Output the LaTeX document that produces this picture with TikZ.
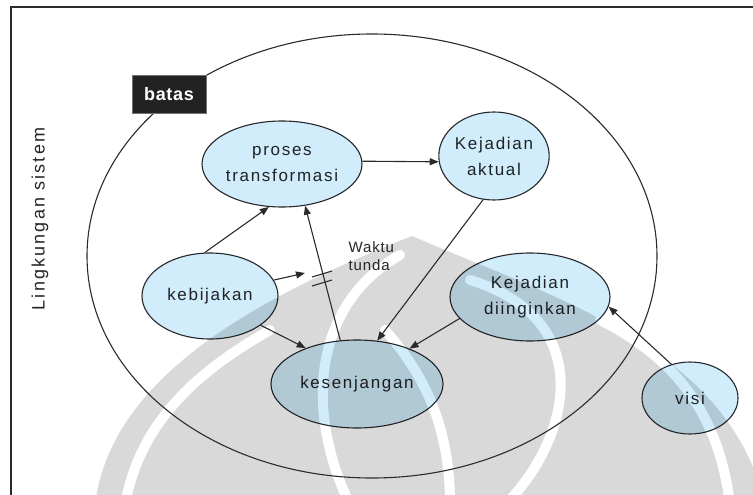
\documentclass[tikz,border=0pt]{standalone}
\usepackage{fontspec}
\setmainfont{Liberation Sans}[LetterSpace=10]
\usetikzlibrary{shapes.geometric,arrows.meta}
\definecolor{nodefill}{HTML}{D1ECFB}
\definecolor{linegrey}{HTML}{2B2B2B}
\definecolor{markgrey}{HTML}{D9D9D9}
\definecolor{boxdark}{HTML}{222222}
\begin{document}
\begin{tikzpicture}[x=1pt,y=-1pt,
  concept/.style={ellipse, draw=linegrey, line width=1.1pt, fill=nodefill,
    inner sep=0pt, align=center, text=black!85,
    font=\fontsize{17}{26}\selectfont},
  link/.style={draw=linegrey, line width=1.1pt,
    -{Triangle[length=9pt,width=7pt]}},
  plain/.style={draw=linegrey, line width=1.1pt},
  stripe/.style={draw=white, line width=10pt, line cap=round},
]
\useasboundingbox (0,0) rectangle (753,495);
\fill[white] (0,0) rectangle (753,495);

% faint emblem in the background
\fill[markgrey] (95,505) .. controls (110,380) and (250,300) .. (412,236)
  .. controls (560,300) and (730,350) .. (765,505) -- cycle;
\draw[stripe] (400,255) .. controls (320,300) and (300,400) .. (350,505);
\draw[stripe] (470,280) .. controls (600,320) and (570,440) .. (505,505);
\draw[stripe] (270,330) .. controls (200,370) and (140,420) .. (125,505);
\draw[stripe] (600,320) .. controls (680,360) and (720,420) .. (730,505);
\draw[stripe] (385,330) .. controls (420,370) and (450,420) .. (450,505);

% frame
\draw[plain, line width=1.6pt] (11,505) -- (11,7) -- (760,7);

% system boundary
\node[ellipse, draw=linegrey, line width=1.1pt, minimum width=570pt,
  minimum height=444pt, inner sep=0pt] (boundary) at (372,256) {};
\node[fill=boxdark, draw=black!55, line width=0.8pt, minimum width=74pt,
  minimum height=38pt, inner sep=0pt, text=white,
  font=\bfseries\fontsize{18}{20}\selectfont\addfontfeature{LetterSpace=4}]
  (batas) at (169,94) {batas};

\node[rotate=90, text=black!85,
  font=\fontsize{18}{20}\selectfont\addfontfeature{LetterSpace=12}]
  (env) at (40,219) {Lingkungan sistem};

% concepts
\begin{scope}[blend mode=multiply]
\node[concept, minimum width=160pt, minimum height=86pt] (proses) at (282,164)
  {proses\\transformasi};
\node[concept, minimum width=102pt, minimum height=88pt] (aktual) at (494,156)
  {Kejadian\\aktual};
\node[concept, minimum width=136pt, minimum height=86pt] (kebijakan) at (210,296)
  {kebijakan};
\node[concept, minimum width=160pt, minimum height=88pt] (diinginkan) at (530,297)
  {Kejadian\\diinginkan};
\node[concept, minimum width=172pt, minimum height=88pt] (gap) at (357,384)
  {kesenjangan};
\node[concept, minimum width=96pt, minimum height=72pt] (visi) at (690,398)
  {visi};
\end{scope}

\node[align=left, anchor=west, text=black!85,
  font=\fontsize{15}{18}\selectfont\addfontfeature{LetterSpace=6}]
  (tunda) at (345,256) {Waktu\\tunda};

% links
\draw[link] (proses.2) -- (aktual.186);
\draw[link] (kebijakan.97) -- (proses.-107);
\coordinate (delayend) at (305,273);
\draw[link] (kebijakan.14) -- (delayend);
\coordinate (delaymark) at (322,274);
\draw[plain] ([shift={(-10,3)}]delaymark) -- ([shift={(10,-3)}]delaymark);
\draw[plain] ([shift={(-10,12)}]delaymark) -- ([shift={(10,6)}]delaymark);
\draw[link] (kebijakan.-30) -- (gap.145);
\draw[link] (gap.111) -- (proses.-61);
\draw[link] (aktual.-104) -- (gap.65);
\draw[link] (diinginkan.197) -- (gap.34);
\draw[link] (visi.119) -- (diinginkan.-7);
\end{tikzpicture}
\end{document}
